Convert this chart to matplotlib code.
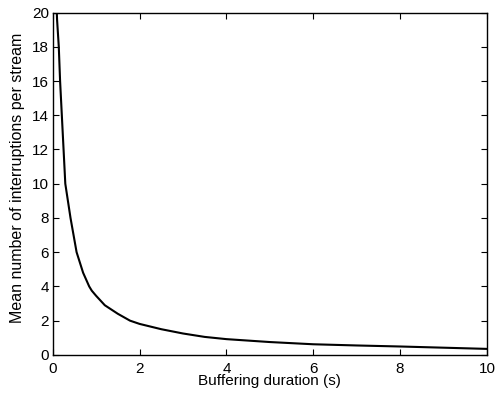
import matplotlib
matplotlib.use("Agg")
import matplotlib.pyplot as plt

plt.rcParams['font.family'] = ['Liberation Sans', 'DejaVu Sans']

# values
buffer_s = [0.09, 0.10, 0.14, 0.17, 0.21, 0.25, 0.29, 0.35, 0.41, 0.55, 0.70,
            0.84, 0.90, 1.0, 1.2, 1.5, 1.78, 2.0, 2.5, 3.0, 3.5, 4.0, 5.0,
            6.0, 7.0, 8.0, 9.0, 10.0]
interruptions = [20.3, 19.6, 18.0, 16.0, 14.0, 12.0, 10.0, 9.0, 8.0, 6.0, 4.8,
                 4.0, 3.75, 3.45, 2.9, 2.4, 2.0, 1.81, 1.5, 1.25, 1.05, 0.92,
                 0.75, 0.62, 0.55, 0.49, 0.42, 0.35]
xticks = [0, 2, 4, 6, 8, 10]
yticks = [0, 2, 4, 6, 8, 10, 12, 14, 16, 18, 20]

fig = plt.figure(figsize=(5.02, 3.93), dpi=100)
ax = fig.add_axes([0.105, 0.097, 0.865, 0.871])
ax.plot(buffer_s, interruptions, color="black", linewidth=1.5)
ax.set_xlim(0, 10)
ax.set_ylim(0, 20)
ax.set_xticks(xticks)
ax.set_yticks(yticks)
ax.tick_params(direction="in", top=True, right=True, labelsize=11, length=4)
ax.tick_params(axis="x", pad=5)
ax.tick_params(axis="y", pad=2.5)
for s in ax.spines.values():
    s.set_linewidth(1.0)
ax.set_xlabel("Buffering duration (s)", fontsize=11, labelpad=-1)
ax.set_ylabel("Mean number of interruptions per stream", fontsize=11.5)
ax.yaxis.set_label_coords(-0.064, 0.518)

fig.savefig("out.png", dpi=100)
